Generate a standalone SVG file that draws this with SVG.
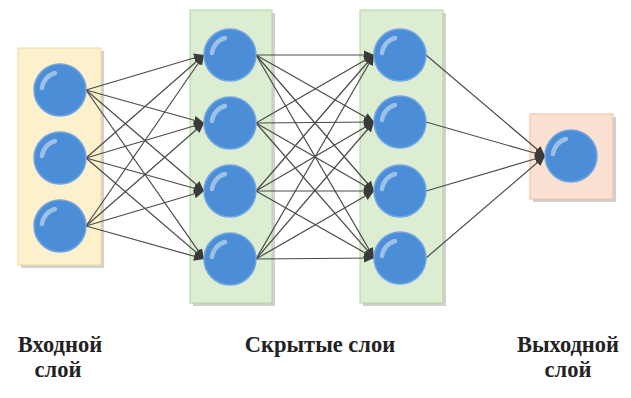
<svg xmlns="http://www.w3.org/2000/svg" width="631" height="398" viewBox="0 0 631 398">
<defs>
<style>
.shadow{fill:#9a9a9a;opacity:0.45}
.in{fill:#fdf0cd;stroke:#f0d99a;stroke-width:1}
.hid{fill:#dcedd2;stroke:#b5d5a4;stroke-width:1}
.out{fill:#fbe1d1;stroke:#efbd9f;stroke-width:1}
.node{fill:#4b8dd6;stroke:#6ea5e2;stroke-width:1.5}
.hl{fill:none;stroke:#ffffff;stroke-opacity:0.45;stroke-width:4.5;stroke-linecap:round}
.edge{stroke:#4a4a4a;stroke-width:1.2;fill:none;marker-end:url(#arr)}
.lbl{font-family:"Liberation Serif","Times New Roman",serif;font-weight:bold;font-size:22.5px;fill:#222222;text-anchor:middle}
</style>
<marker id="arr" viewBox="0 0 10 10" refX="10" refY="5" markerWidth="10" markerHeight="10" markerUnits="userSpaceOnUse" orient="auto">
<path d="M0,0.5 L10,5 L0,9.5 z" fill="#3a3a3a"/>
</marker>
<g id="neuron">
<circle class="node" cx="0" cy="0" r="26"/>
<path class="hl" d="M-18,-2 A18,18 0 0 1 -5,-17"/>
</g>
</defs>

<g id="layer-boxes">
<g id="input-box"><rect class="shadow" x="21" y="51" width="83" height="217"/><rect class="in" x="18" y="48" width="83" height="217"/></g>
<g id="hidden1-box"><rect class="shadow" x="193" y="13" width="82" height="293"/><rect class="hid" x="190" y="10" width="82" height="293"/></g>
<g id="hidden2-box"><rect class="shadow" x="363" y="13" width="83" height="293"/><rect class="hid" x="360" y="10" width="83" height="293"/></g>
<g id="output-box"><rect class="shadow" x="533" y="117" width="83" height="85"/><rect class="out" x="530" y="114" width="83" height="85"/></g>
</g>

<g id="connectors">
<path class="edge" d="M86,90 L204,55"/><path class="edge" d="M86,90 L204,123"/><path class="edge" d="M86,90 L204,191"/><path class="edge" d="M86,90 L204,259"/>
<path class="edge" d="M86,158 L204,55"/><path class="edge" d="M86,158 L204,123"/><path class="edge" d="M86,158 L204,191"/><path class="edge" d="M86,158 L204,259"/>
<path class="edge" d="M86,226 L204,55"/><path class="edge" d="M86,226 L204,123"/><path class="edge" d="M86,226 L204,191"/><path class="edge" d="M86,226 L204,259"/>

<path class="edge" d="M256,55 L374,55"/><path class="edge" d="M256,55 L374,122"/><path class="edge" d="M256,55 L374,191"/><path class="edge" d="M256,55 L374,258"/>
<path class="edge" d="M256,123 L374,55"/><path class="edge" d="M256,123 L374,122"/><path class="edge" d="M256,123 L374,191"/><path class="edge" d="M256,123 L374,258"/>
<path class="edge" d="M256,191 L374,55"/><path class="edge" d="M256,191 L374,122"/><path class="edge" d="M256,191 L374,191"/><path class="edge" d="M256,191 L374,258"/>
<path class="edge" d="M256,259 L374,55"/><path class="edge" d="M256,259 L374,122"/><path class="edge" d="M256,259 L374,191"/><path class="edge" d="M256,259 L374,258"/>

<path class="edge" d="M426,55 L545,156"/><path class="edge" d="M426,122 L545,156"/><path class="edge" d="M426,191 L545,156"/><path class="edge" d="M426,258 L545,156"/>
</g>

<g id="input-nodes">
<g id="in1"><use href="#neuron" x="60" y="90"/></g>
<g id="in2"><use href="#neuron" x="60" y="158"/></g>
<g id="in3"><use href="#neuron" x="60" y="226"/></g>
</g>
<g id="hidden1-nodes">
<g id="h11"><use href="#neuron" x="230" y="55"/></g>
<g id="h12"><use href="#neuron" x="230" y="123"/></g>
<g id="h13"><use href="#neuron" x="230" y="191"/></g>
<g id="h14"><use href="#neuron" x="230" y="259"/></g>
</g>
<g id="hidden2-nodes">
<g id="h21"><use href="#neuron" x="400" y="55"/></g>
<g id="h22"><use href="#neuron" x="400" y="122"/></g>
<g id="h23"><use href="#neuron" x="400" y="191"/></g>
<g id="h24"><use href="#neuron" x="400" y="258"/></g>
</g>
<g id="output-node">
<g id="o1"><use href="#neuron" x="571" y="156"/></g>
</g>

<g id="labels">
<text class="lbl" x="60" y="352">Входной</text>
<text class="lbl" x="58" y="377">слой</text>
<text class="lbl" x="320" y="352">Скрытые слои</text>
<text class="lbl" x="568" y="352">Выходной</text>
<text class="lbl" x="568" y="377">слой</text>
</g>
</svg>
